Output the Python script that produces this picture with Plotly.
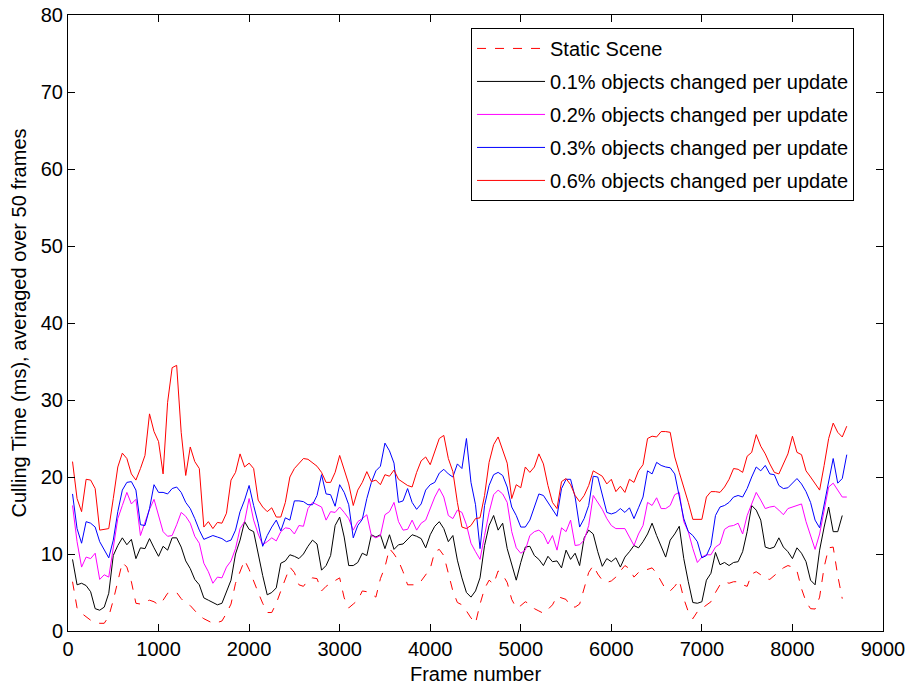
import plotly.graph_objects as go

# ---------------- data ----------------
frames = list(range(50, 8601, 50))

static_scene = [
    6.4, 3.0, 2.3, 1.8, 1.4, 1.1, 1.0, 1.0, 1.9, 4.0,
    6.5, 8.9, 8.3, 6.4, 3.6, 3.5, 3.8, 4.0, 3.8, 3.4,
    4.0, 4.9, 5.0, 5.0, 4.2, 3.6, 3.3, 2.6, 2.0, 1.6,
    1.3, 1.0, 1.1, 1.3, 2.3, 3.5, 6.2, 7.8, 9.2, 8.0,
    6.4, 5.0, 3.6, 2.4, 2.4, 3.6, 5.2, 6.8, 8.3, 7.6,
    6.0, 5.8, 6.6, 6.9, 6.8, 5.2, 5.8, 6.2, 6.6, 6.9,
    4.3, 3.0, 3.5, 4.0, 5.2, 5.1, 4.8, 4.4, 6.8, 8.3,
    10.7, 10.0, 9.1, 7.7, 6.0, 6.0, 6.0, 6.5, 7.3, 8.1,
    10.3, 10.6, 9.8, 7.5, 5.2, 3.7, 3.4, 2.6, 1.7, 1.0,
    3.5, 5.5, 6.6, 6.1, 7.8, 7.3, 6.3, 4.1, 3.0, 3.3,
    3.8, 3.5, 2.9, 2.6, 2.3, 2.8, 3.4, 4.5, 4.3, 4.1,
    3.2, 3.1, 3.5, 5.6, 7.6, 8.5, 7.4, 6.6, 6.3, 6.5,
    7.0, 7.8, 8.5, 8.1, 7.0, 7.6, 7.8, 8.0, 8.2, 7.5,
    6.5, 5.4, 5.2, 5.8, 6.6, 4.2, 2.5, 1.6, 2.5, 2.9,
    3.3, 3.8, 5.0, 6.0, 6.4, 6.2, 6.4, 6.4, 6.0, 5.8,
    7.4, 7.7, 7.3, 6.8, 6.7, 7.2, 7.8, 8.2, 8.5, 8.3,
    7.8, 5.5, 3.8, 2.9, 2.85, 4.4, 8.3, 10.8, 10.9, 7.2,
    4.2,
]

pct_01 = [
    9.3, 6.0, 6.2, 5.9, 5.1, 2.9, 2.7, 3.1, 4.9, 9.8,
    11.1, 12.1, 11.2, 11.9, 9.4, 10.8, 10.7, 12.0, 10.8, 9.7,
    11.0, 10.5, 12.1, 12.1, 10.9, 9.1, 8.1, 6.7, 6.0, 4.3,
    4.0, 3.7, 3.4, 3.6, 5.1, 6.6, 10.0, 11.8, 14.2, 13.2,
    12.9, 9.8, 7.2, 4.7, 5.0, 5.6, 8.8, 9.1, 9.9, 9.7,
    9.4, 10.0, 11.0, 11.8, 11.3, 7.9, 8.5, 9.8, 13.7, 14.8,
    12.2, 8.5, 8.5, 8.9, 10.1, 9.8, 12.5, 12.2, 12.5, 10.7,
    12.5, 10.6, 11.2, 11.3, 11.9, 12.5, 12.3, 12.0, 10.8, 12.5,
    13.6, 14.2, 13.3, 11.6, 12.4, 9.2, 6.9, 5.0, 4.4, 5.2,
    6.9, 11.1, 13.7, 15.0, 13.1, 14.0, 10.7, 8.5, 6.6, 8.9,
    10.9, 11.0, 9.8, 9.3, 8.5, 9.7, 9.0, 9.1, 8.2, 10.5,
    9.3, 10.1, 8.5, 12.1, 13.1, 12.6, 10.3, 8.4, 9.4, 9.0,
    9.5, 8.3, 9.6, 10.3, 11.1, 10.8, 11.6, 12.6, 14.0, 12.4,
    10.9, 9.6, 11.8, 12.6, 13.6, 9.4, 6.4, 3.7, 3.6, 3.8,
    6.6, 7.5, 10.2, 8.6, 8.9, 8.5, 8.9, 9.0, 10.3, 12.9,
    16.3, 15.7, 14.4, 10.9, 10.7, 10.9, 12.1, 10.9, 10.3, 9.4,
    10.8, 10.1, 9.0, 6.6, 6.0, 10.5, 13.5, 16.1, 12.9, 12.9,
    15.0,
]

pct_02 = [
    16.3, 11.6, 8.3, 9.6, 9.4, 10.1, 6.7, 7.3, 7.0, 10.7,
    14.6, 16.3, 18.0, 16.5, 17.1, 12.4, 14.0, 15.8, 17.1, 15.1,
    12.9, 12.3, 12.4, 13.8, 15.4, 14.9, 14.0, 12.3, 11.4, 8.8,
    7.7, 6.2, 7.0, 6.9, 8.3, 9.1, 10.7, 13.3, 14.2, 17.2,
    14.4, 12.6, 11.2, 11.6, 12.1, 11.7, 12.9, 13.4, 13.3, 12.6,
    13.7, 13.6, 15.9, 16.7, 16.4, 16.1, 14.4, 15.5, 15.4, 16.1,
    15.4, 14.6, 13.1, 14.2, 14.6, 15.1, 12.4, 12.1, 12.4, 15.1,
    15.5, 16.7, 14.2, 13.1, 13.2, 14.4, 13.1, 14.0, 14.4, 16.0,
    17.4, 18.5, 17.4, 15.0, 14.6, 15.7, 15.4, 13.8, 11.4, 10.3,
    9.3, 12.4, 15.4, 17.7, 18.3, 17.8, 16.7, 12.9, 10.8, 10.1,
    10.5, 12.4, 12.9, 13.1, 12.6, 11.3, 12.4, 10.5, 13.4, 12.9,
    14.4, 11.1, 11.2, 11.8, 13.7, 17.6, 16.7, 15.8, 14.6, 13.7,
    13.3, 13.3, 13.3, 12.2, 11.1, 12.6, 13.7, 16.7, 16.3, 17.3,
    15.9, 15.9, 16.3, 17.7, 18.0, 14.2, 12.9, 10.7, 8.9, 9.6,
    9.9, 9.9, 10.9, 11.3, 13.2, 13.6, 13.7, 14.0, 12.6, 15.0,
    16.5, 18.0, 17.0, 15.9, 16.1, 16.2, 15.7, 15.1, 15.9, 16.1,
    16.3, 16.5, 14.2, 12.4, 10.6, 12.6, 15.9, 18.7, 19.2, 18.3,
    17.4, 17.4,
]

pct_03 = [
    17.8, 13.3, 11.4, 14.2, 14.0, 13.5, 11.6, 10.5, 9.5, 11.8,
    15.5, 18.3, 19.3, 19.4, 18.3, 13.8, 13.7, 15.9, 19.0, 18.0,
    18.0, 17.8, 18.5, 18.7, 18.0, 16.7, 15.9, 14.6, 13.1, 11.9,
    12.2, 12.4, 12.2, 12.0, 11.6, 11.8, 13.1, 15.5, 17.0, 18.9,
    16.3, 14.0, 11.0, 12.4, 13.5, 14.4, 13.0, 14.7, 14.4, 16.9,
    16.9, 16.8, 16.4, 16.4, 17.6, 20.3, 17.8, 17.7, 16.2, 19.0,
    18.0, 16.4, 12.1, 13.7, 14.5, 17.2, 19.3, 20.8, 21.4, 24.4,
    23.4, 21.8, 16.7, 16.9, 18.5, 16.7, 15.8, 16.5, 18.3, 19.0,
    19.3, 20.5, 21.0, 20.4, 20.0, 21.7, 21.1, 25.0, 19.3, 16.4,
    10.7, 16.3, 18.9, 20.3, 20.6, 20.2, 18.7, 16.1, 15.0, 13.5,
    13.5, 14.4, 16.1, 17.8, 17.6, 16.7, 15.8, 14.9, 18.5, 19.7,
    19.7, 17.4, 13.5, 14.6, 16.3, 20.1, 20.0, 17.8, 15.4, 15.2,
    15.4, 15.9, 15.4, 16.0, 14.6, 16.0, 17.4, 20.8, 20.4, 21.9,
    21.5, 21.3, 21.2, 20.4, 17.6, 14.6, 12.9, 12.4, 11.6, 9.5,
    9.8, 11.1, 15.0, 16.1, 16.3, 16.7, 17.4, 17.6, 17.4, 18.5,
    20.0, 21.3, 20.8, 21.5, 20.4, 20.3, 18.9, 18.5, 18.6, 19.2,
    19.8, 19.1, 18.1, 16.7, 14.4, 13.4, 16.5, 19.6, 22.4, 19.2,
    19.8, 22.9,
]

pct_06 = [
    22.0, 17.2, 15.5, 19.7, 19.6, 18.5, 13.1, 13.2, 13.3, 17.2,
    21.3, 23.1, 22.4, 20.4, 19.6, 21.1, 22.8, 28.2, 25.9, 24.6,
    20.4, 29.7, 34.2, 34.5, 25.8, 20.2, 23.9, 22.0, 21.1, 13.5,
    14.2, 13.3, 14.1, 14.0, 15.3, 19.6, 20.6, 23.0, 21.3, 21.8,
    21.1, 17.0, 16.1, 15.5, 16.0, 14.8, 14.8, 16.7, 20.0, 21.1,
    21.7, 22.4, 22.3, 21.9, 21.4, 20.6, 19.3, 19.3, 20.6, 22.8,
    21.1, 19.1, 16.3, 18.3, 19.3, 20.7, 19.4, 19.6, 19.0, 20.3,
    20.1, 20.9, 19.7, 19.3, 18.9, 18.7, 20.6, 22.1, 22.6, 21.6,
    23.4, 25.0, 25.4, 22.4, 20.7, 16.7, 13.5, 13.3, 13.7, 14.6,
    14.7, 17.6, 21.9, 24.2, 25.2, 23.4, 21.8, 17.2, 19.0, 18.6,
    21.3, 20.6, 21.3, 23.0, 21.7, 18.9, 16.7, 15.9, 19.4, 19.8,
    19.0, 17.6, 16.8, 17.6, 18.9, 20.8, 20.4, 20.1, 19.1, 19.7,
    18.1, 18.8, 18.0, 19.7, 19.3, 20.8, 21.6, 25.0, 25.3, 25.2,
    25.9, 25.9, 25.8, 22.6, 20.6, 18.7, 16.7, 14.5, 14.5, 14.5,
    17.4, 18.1, 18.1, 18.0, 18.7, 19.7, 21.1, 21.0, 20.6, 22.7,
    23.2, 25.5, 24.0, 23.0, 21.7, 20.6, 20.4, 21.8, 23.0, 25.3,
    23.2, 22.9, 20.8, 20.0, 19.1, 18.3, 21.5, 25.0, 27.0, 25.8,
    25.2, 26.6,
]

series_names = [
    "Static Scene",
    "0.1% objects changed per update",
    "0.2% objects changed per update",
    "0.3% objects changed per update",
    "0.6% objects changed per update",
]
series_values = [static_scene, pct_01, pct_02, pct_03, pct_06]
series_colors = ["#ff0000", "#000000", "#ff00ff", "#0000ff", "#ff0000"]
series_dash = ["9px,9px", "solid", "solid", "solid", "solid"]

x_ticks = list(range(0, 9001, 1000))
y_ticks = list(range(0, 81, 10))

FONT = "Liberation Sans, Arial, Helvetica, sans-serif"
FS = 20

fig = go.Figure()
for i, (name, vals, col, dash) in enumerate(zip(series_names, series_values, series_colors, series_dash)):
    fig.add_trace(go.Scatter(
        x=frames[:len(vals)], y=vals, mode="lines", name=name,
        line=dict(color=col, width=1, dash=dash),
        legendgroup=f"g{i}",
    ))

axis_common = dict(
    showline=True, linecolor="black", linewidth=1, mirror="ticks",
    ticks="inside", ticklen=7, tickwidth=1, tickcolor="black",
    showgrid=False, zeroline=False, automargin=False,
    tickfont=dict(family=FONT, size=FS, color="black"),
)

fig.update_layout(
    width=908, height=685,
    margin=dict(l=68, r=25, t=15, b=54, pad=0),
    paper_bgcolor="white", plot_bgcolor="white",
    font=dict(family=FONT, size=FS, color="black"),
    xaxis=dict(range=[0, 9000], tickvals=x_ticks,
               title=dict(text="Frame number", standoff=8, font=dict(family=FONT, size=FS)),
               **axis_common),
    yaxis=dict(range=[0, 80], tickvals=y_ticks,
               title=dict(text="Culling Time (ms), averaged over 50 frames", standoff=8,
                          font=dict(family=FONT, size=FS)),
               **axis_common),
    legend=dict(
        x=0.4945, y=0.979, xanchor="left", yanchor="top",
        bgcolor="white", bordercolor="black", borderwidth=1,
        font=dict(family=FONT, size=FS, color="black"),
        itemwidth=68, tracegroupgap=4, traceorder="grouped",
        entrywidth=392, entrywidthmode="pixels",
    ),
    showlegend=True,
)

fig.write_html("out.html")
